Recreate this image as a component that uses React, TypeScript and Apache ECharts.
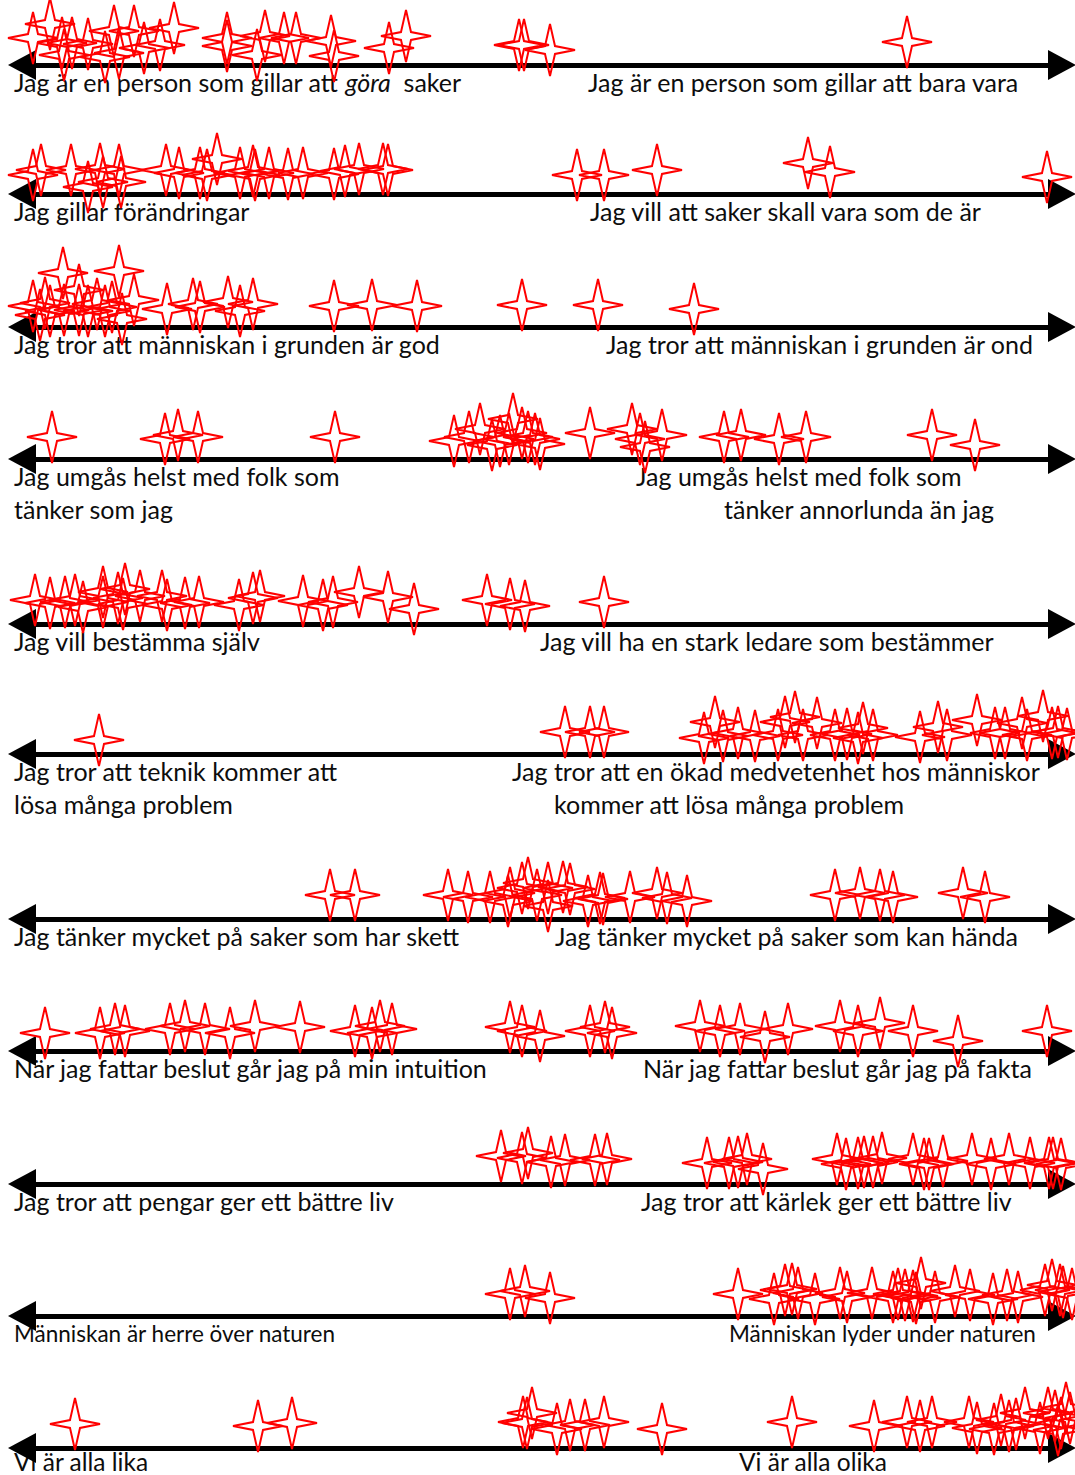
import React, { useEffect, useRef } from "react";
import * as echarts from "echarts";

// Position on the scale (0 = left end, 104 = right end) and height of each star above its line
const row1 = [[1.1,27],[2.8,41],[4.0,22],[4.2,10],[5.0,22],[6.6,21],[8.3,8],[9.2,34],[9.7,12],[11.2,34],[12.2,17],[13.8,20],[15.2,37],[20.5,27],[20.5,19],[23.5,10],[24.3,29],[26.2,27],[27.4,27],[30.9,24],[31.2,9],[36.7,17],[38.4,29],[49.7,20],[50.2,20],[52.8,15],[88.5,23]];
const row2 = [[1.1,19],[1.9,24],[4.9,24],[6.6,7],[7.8,25],[8.1,12],[9.7,24],[9.9,12],[14.4,24],[15.7,21],[17.8,21],[18.5,19],[19.5,35],[21.8,21],[23.1,23],[23.3,19],[24.7,21],[26.6,20],[28.1,21],[31.2,20],[32.3,23],[33.7,25],[36.1,25],[36.6,24],[55.5,19],[58.2,19],[63.5,24],[78.6,31],[80.8,22],[102.5,17]];
const row3 = [[1.1,21],[1.8,12],[2.3,24],[2.8,16],[4.1,54],[4.2,17],[5.7,37],[5.7,17],[6.6,16],[7.5,23],[8.3,16],[9.0,20],[9.7,56],[10.0,8],[11.2,27],[14.5,18],[17.1,23],[17.8,20],[20.6,25],[21.8,16],[23.1,23],[31.2,21],[35.0,22],[39.5,21],[50.0,22],[57.6,22],[67.2,18]];
const row4 = [[3.0,22],[14.3,20],[15.6,24],[17.6,22],[31.3,22],[43.2,18],[44.7,22],[45.8,30],[47.0,14],[47.8,18],[48.7,20],[49.1,40],[50.0,26],[50.6,22],[51.3,20],[51.8,15],[56.8,26],[61.0,30],[61.8,20],[62.3,12],[64.0,24],[70.2,22],[71.9,24],[75.7,20],[78.4,22],[91.0,24],[95.3,14]];
const row5 = [[1.3,24],[2.8,21],[4.3,22],[5.3,24],[6.1,17],[8.1,32],[8.1,22],[9.6,26],[10.1,20],[10.3,35],[11.8,28],[14.0,28],[14.5,19],[16.3,21],[17.7,22],[21.7,19],[23.1,26],[23.8,28],[28.1,23],[30.1,19],[31.1,22],[33.7,32],[36.6,27],[39.2,15],[46.5,24],[48.8,20],[50.3,18],[58.2,22]];
const row6 = [[7.7,14],[54.3,22],[56.8,22],[58.2,22],[68.2,16],[69.3,32],[70.1,18],[71.6,21],[73.3,18],[75.6,19],[76.3,32],[77.3,37],[78.1,19],[79.5,31],[81.3,19],[82.5,20],[83.6,16],[84.1,26],[85.1,19],[89.8,17],[91.6,27],[92.5,19],[95.5,34],[97.3,21],[98.3,21],[100.0,31],[100.5,19],[102.1,38],[103.0,21],[103.6,22],[104.5,20]];
const row7 = [[30.8,24],[33.3,24],[42.6,24],[44.6,22],[46.8,22],[48.6,18],[48.8,26],[50.0,31],[50.6,36],[51.5,24],[52.6,13],[52.6,31],[54.1,32],[54.8,30],[56.6,18],[57.8,21],[58.1,20],[60.8,22],[63.5,26],[64.5,21],[66.5,18],[81.3,24],[83.8,26],[85.8,24],[87.1,22],[94.1,26],[96.3,22]];
const row8 = [[2.3,18],[7.8,18],[9.3,22],[10.3,20],[14.8,22],[16.3,25],[18.3,22],[20.8,18],[23.3,25],[27.8,24],[33.3,20],[35.0,18],[35.8,25],[37.0,22],[48.8,24],[50.0,20],[51.8,15],[56.8,20],[58.3,24],[59.0,18],[67.8,25],[69.8,20],[71.8,22],[74.3,14],[76.6,22],[81.8,25],[83.6,20],[85.8,28],[89.1,20],[93.6,10],[102.5,20]];
const row9 = [[47.9,28],[50.0,26],[50.6,31],[52.9,22],[54.3,24],[57.3,24],[58.5,25],[68.5,21],[70.7,21],[71.6,22],[72.5,25],[74.1,15],[81.5,25],[82.4,20],[83.6,21],[84.2,22],[85.1,22],[86.0,26],[89.1,25],[90.2,20],[90.7,20],[92.1,23],[95.0,25],[96.9,20],[98.7,25],[100.8,21],[102.7,21],[103.1,21],[103.9,20]];
const row10 = [[48.8,22],[50.3,25],[52.8,18],[71.6,22],[75.2,17],[76.3,26],[77.0,27],[77.6,23],[79.3,17],[81.8,23],[82.5,19],[85.0,23],[87.1,19],[87.6,22],[88.3,21],[89.1,20],[89.4,18],[89.9,33],[91.3,19],[93.3,25],[94.8,21],[97.1,17],[98.5,21],[99.6,19],[102.3,26],[103.0,31],[103.8,26],[104.1,24],[105.0,22]];
const row11 = [[5.3,24],[23.6,22],[27.0,25],[50.1,26],[50.5,25],[51.0,35],[53.5,19],[54.8,23],[56.3,23],[58.2,26],[64.0,19],[77.0,26],[85.2,22],[88.5,26],[89.8,22],[91.0,26],[94.7,26],[95.5,20],[97.2,19],[97.9,28],[98.7,22],[99.4,24],[100.3,35],[101.8,20],[102.6,35],[103.3,32],[103.6,18],[103.9,25],[104.4,40],[104.8,30]];

const rows = [row1, row2, row3, row4, row5, row6, row7, row8, row9, row10, row11];

const leftLabels = [
  ["Jag är en person som gillar att {i|göra}  saker"],
  ["Jag gillar förändringar"],
  ["Jag tror att människan i grunden är god"],
  ["Jag umgås helst med folk som", "tänker som jag"],
  ["Jag vill bestämma själv"],
  ["Jag tror att teknik kommer att", "lösa många problem"],
  ["Jag tänker mycket på saker som har skett"],
  ["När jag fattar beslut går jag på min intuition"],
  ["Jag tror att pengar ger ett bättre liv"],
  ["Människan är herre över naturen"],
  ["Vi är alla lika"],
];
const rightLabels = [
  ["Jag är en person som gillar att bara vara"],
  ["Jag vill att saker skall vara som de är"],
  ["Jag tror att människan i grunden är ond"],
  ["Jag umgås helst med folk som", "tänker annorlunda än jag"],
  ["Jag vill ha en stark ledare som bestämmer"],
  ["Jag tror att en ökad medvetenhet hos människor", "kommer att lösa många problem"],
  ["Jag tänker mycket på saker som kan hända"],
  ["När jag fattar beslut går jag på fakta"],
  ["Jag tror att kärlek ger ett bättre liv"],
  ["Människan lyder under naturen"],
  ["Vi är alla olika"],
];

// layout
const LINE_Y = [65, 194, 327, 459, 624, 754, 919, 1051, 1184, 1316, 1448];
const RIGHT_X = [[588], [590], [606], [636, 724], [540], [512, 554], [555], [643], [641], [729], [739]];
const ROW_FS = [25, 25, 25, 25, 25, 25, 25, 25, 25, 22.5, 24.5];
const ROW_DY = [17, 17, 17, 17, 17, 17, 17, 17, 17, 17, 13];
const GRID_H = 65;
const FONT = "Lato, 'Open Sans', sans-serif";
const LINE_GAP = 33;
const STAR = "path://M0,-26L5,-4L25,0L5,4L0,26L-5,4L-25,0L-5,-4Z";

export default function App() {
  const ref = useRef<HTMLDivElement>(null);
  useEffect(() => {
    if (!ref.current) return;
    const chart = echarts.init(ref.current, null, { renderer: "svg" });
    const graphics: any[] = [];
    rows.forEach((_, i) => {
      const fs = ROW_FS[i];
      const lh = Math.round(fs * 1.05);
      leftLabels[i].forEach((t, j) => {
        graphics.push({
          type: "text",
          style: {
            text: t, x: 14, y: LINE_Y[i] + ROW_DY[i] + j * LINE_GAP,
            fontSize: fs, fontFamily: FONT, fill: "#0d0d0d", lineHeight: lh,
            verticalAlign: "middle", textVerticalAlign: "middle",
            rich: { i: { fontStyle: "italic", fontSize: fs, fontFamily: FONT, fill: "#0d0d0d", lineHeight: lh } },
          },
        });
      });
      rightLabels[i].forEach((t, j) => {
        graphics.push({
          type: "text",
          style: {
            text: t, x: RIGHT_X[i][j], y: LINE_Y[i] + ROW_DY[i] + j * LINE_GAP,
            fontSize: fs, fontFamily: FONT, fill: "#0d0d0d", lineHeight: lh,
            verticalAlign: "middle", textVerticalAlign: "middle",
          },
        });
      });
    });
    chart.setOption({
      animation: false,
      backgroundColor: "#fff",
      grid: rows.map((_, i) => ({ left: 22, right: 13, top: LINE_Y[i] - GRID_H, height: GRID_H })),
      xAxis: rows.map((_, i) => ({
        gridIndex: i, type: "value", min: 0, max: 104,
        axisLine: { show: true, onZero: false, symbol: ["triangle", "triangle"], symbolSize: [30, 28], lineStyle: { color: "#000", width: 5 } },
        axisTick: { show: false }, axisLabel: { show: false }, splitLine: { show: false },
      })),
      yAxis: rows.map((_, i) => ({ gridIndex: i, type: "value", min: 0, max: GRID_H, show: false })),
      series: rows.map((d, i) => ({
        type: "scatter", xAxisIndex: i, yAxisIndex: i, data: d,
        symbol: STAR, symbolSize: [50, 52], clip: false, silent: true,
        itemStyle: { color: "rgba(0,0,0,0)", borderColor: "#ff0000", borderWidth: 2, opacity: 1 },
      })),
      graphic: graphics,
    });
    return () => chart.dispose();
  }, []);
  return <div ref={ref} style={{ position: "absolute", left: 0, top: 0, width: 1075, height: 1475 }} />;
}
